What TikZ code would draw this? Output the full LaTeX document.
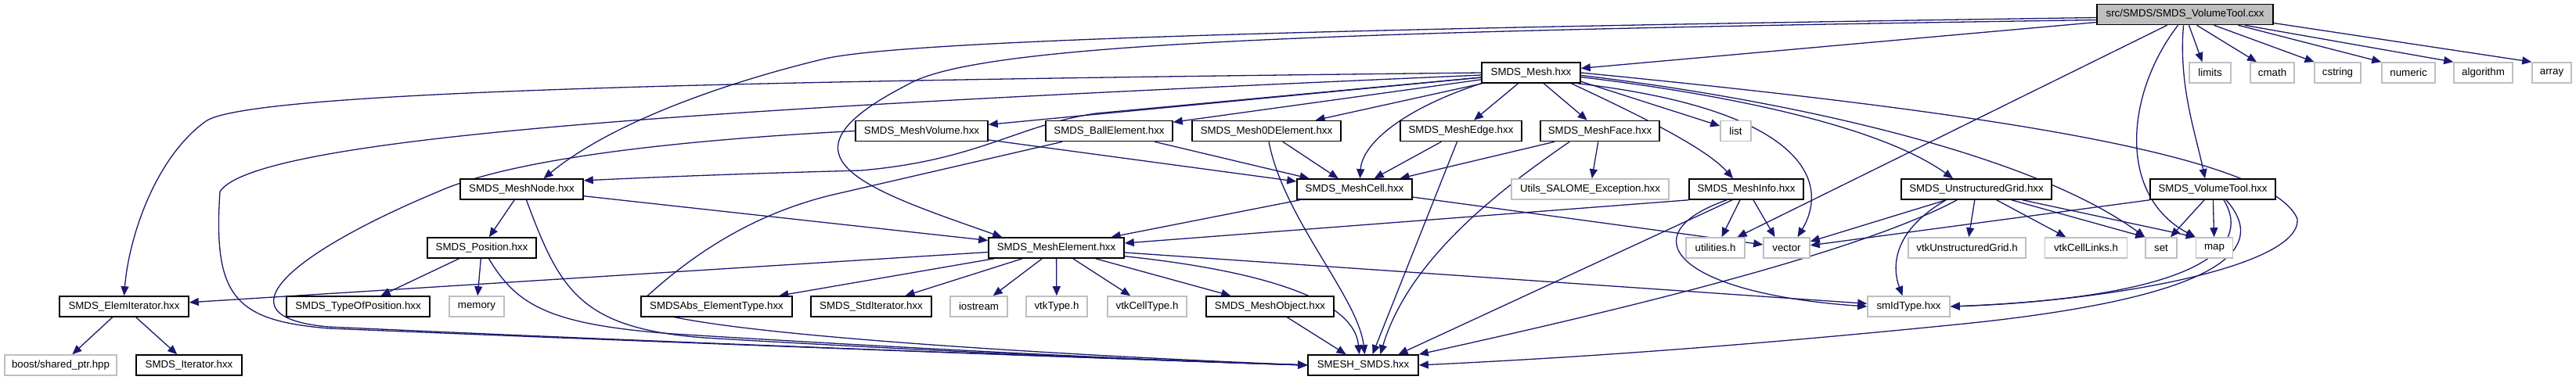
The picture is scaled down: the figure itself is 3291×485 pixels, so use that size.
\documentclass[tikz,border=0pt]{standalone}
\usepackage{fontspec}
\setmainfont{Liberation Sans}
\usetikzlibrary{arrows.meta,calc}
\definecolor{edgec}{HTML}{191970}
\definecolor{greyc}{HTML}{BFBFBF}
\newcommand\lab{\fontsize{13.3}{15}\selectfont}
\pgfdeclarelayer{bg}
\pgfsetlayers{bg,main}
\tikzset{
  e/.style={draw=edgec, line width=1.3pt, -{Triangle[length=12pt,width=10pt]}},
  box/.style={rectangle, fill=white, line width=1.6pt, minimum height=26pt, inner sep=0pt, font=\lab, text=black},
  doc/.style={box, draw=black},
  ext/.style={box, draw=greyc},
  rootbox/.style={box, draw=black, fill=greyc},
}
\begin{document}
\begin{tikzpicture}[x=1pt,y=-1pt]
\useasboundingbox (0,0) rectangle (3291,485);
% row 0
\node[rootbox, minimum width=225] (root) at (2791.5,18.5) {src/SMDS/SMDS\_VolumeTool.cxx};
% row 1
\node[doc, minimum width=126] (mesh) at (1956,93) {SMDS\_Mesh.hxx};
\node[ext, minimum width=53] (limits) at (2823.5,93) {limits};
\node[ext, minimum width=56] (cmath) at (2903,93) {cmath};
\node[ext, minimum width=59] (cstring) at (2986.5,93) {cstring};
\node[ext, minimum width=68] (numeric) at (3077,93) {numeric};
\node[ext, minimum width=75] (algorithm) at (3172.5,93) {algorithm};
\node[ext, minimum width=50] (array) at (3260,93) {array};
% row 2
\node[doc, minimum width=169] (volume) at (1177.5,167.5) {SMDS\_MeshVolume.hxx};
\node[doc, minimum width=162] (ball) at (1417,167.5) {SMDS\_BallElement.hxx};
\node[doc, minimum width=190] (zerod) at (1618,167.5) {SMDS\_Mesh0DElement.hxx};
\node[doc, minimum width=155] (edge) at (1866.5,167.5) {SMDS\_MeshEdge.hxx};
\node[doc, minimum width=152] (face) at (2044,167.5) {SMDS\_MeshFace.hxx};
\node[ext, minimum width=39] (list) at (2217.5,167.5) {list};
% row 3
\node[doc, minimum width=157] (meshnode) at (666.5,242) {SMDS\_MeshNode.hxx};
\node[doc, minimum width=147] (meshcell) at (1730.5,242) {SMDS\_MeshCell.hxx};
\node[ext, minimum width=201] (utilsexc) at (2031.5,242) {Utils\_SALOME\_Exception.hxx};
\node[doc, minimum width=146] (meshinfo) at (2231,242) {SMDS\_MeshInfo.hxx};
\node[doc, minimum width=192] (ugrid) at (2525,242) {SMDS\_UnstructuredGrid.hxx};
\node[doc, minimum width=160] (voltool) at (2827,242) {SMDS\_VolumeTool.hxx};
% row 4
\node[doc, minimum width=139] (position) at (615.5,317) {SMDS\_Position.hxx};
\node[doc, minimum width=173] (meshelem) at (1349.5,317) {SMDS\_MeshElement.hxx};
\node[ext, minimum width=75] (utilities) at (2191.5,317) {utilities.h};
\node[ext, minimum width=59] (vector) at (2282.5,317) {vector};
\node[ext, minimum width=150] (vtkug) at (2513,317) {vtkUnstructuredGrid.h};
\node[ext, minimum width=105] (vtkcl) at (2665,317) {vtkCellLinks.h};
\node[ext, minimum width=40] (set) at (2761,317) {set};
\node[ext, minimum width=47] (map) at (2829,317) {map};
% row 5
\node[doc, minimum width=165] (elemiter) at (158.5,392) {SMDS\_ElemIterator.hxx};
\node[doc, minimum width=183] (typeofpos) at (457.5,392) {SMDS\_TypeOfPosition.hxx};
\node[ext, minimum width=70] (memory) at (609,392) {memory};
\node[doc, minimum width=193] (absel) at (915.5,392) {SMDSAbs\_ElementType.hxx};
\node[doc, minimum width=154] (stditer) at (1113,392) {SMDS\_StdIterator.hxx};
\node[ext, minimum width=73] (iostream) at (1250.5,392) {iostream};
\node[ext, minimum width=78] (vtktype) at (1350,392) {vtkType.h};
\node[ext, minimum width=101] (vtkcelltype) at (1465.5,392) {vtkCellType.h};
\node[doc, minimum width=163] (meshobj) at (1622.5,392) {SMDS\_MeshObject.hxx};
\node[ext, minimum width=105] (smidtype) at (2438.5,392) {smIdType.hxx};
% row 6
\node[ext, minimum width=143] (boost) at (77.5,467) {boost/shared\_ptr.hpp};
\node[doc, minimum width=135] (iterator) at (241.5,467) {SMDS\_Iterator.hxx};
\node[doc, minimum width=141] (smesh) at (1741.5,467) {SMESH\_SMDS.hxx};

\begin{pgfonlayer}{bg}
\fill[white] (0,0) rectangle (3291,485);
% root
\draw[e] (root) -- (mesh);
\draw[e] ($(root.west)+(0,4)$) .. controls (1800,35) and (1150,50) .. (1050,76) .. controls (950,100) and (790,150) .. ($(meshnode.north)+(28,0)$);
\draw[e] ($(root.west)+(0,7)$) .. controls (1700,40) and (1250,55) .. (1160,108) .. controls (980,200) and (1100,240) .. ($(meshelem.north west)+(18,0)$);
\draw[e] ($(root.south)+(-23,0)$) -- ($(utilities.north)+(28,0)$);
\draw[e] ($(root.south)+(-9,0)$) .. controls (2715,120) and (2705,250) .. (map.north west);
\draw[e] ($(root.south)+(-2,0)$) .. controls (2783,110) and (2805,170) .. ($(voltool.north)+(-10,0)$);
\draw[e] ($(root.south)+(5,0)$) -- ($(limits.north)+(-10,0)$);
\draw[e] ($(root.south)+(15,0)$) -- ($(cmath.north)+(-20,0)$);
\draw[e] ($(root.south)+(37,0)$) -- ($(cstring.north)+(-30,0)$);
\draw[e] ($(root.south)+(68,0)$) -- (numeric.north west);
\draw[e] ($(root.south east)+(-37,0)$) -- (algorithm.north west);
\draw[e] ($(root.east)+(0,11)$) -- (array.north west);
% mesh
\draw[e] (mesh.west) .. controls (1000,103) and (320,115) .. (263,155) .. controls (200,200) and (165,300) .. (elemiter.north);
\draw[e] ($(mesh.west)+(0,3)$) .. controls (1000,135) and (330,170) .. (281,245) .. controls (272,380) and (300,410) .. (420,420) .. controls (900,440) and (1400,458) .. (smesh.west);
\draw[e] ($(mesh.west)+(0,6)$) -- (1400,145) .. controls (1300,160) and (1250,205) .. (1100,218) .. controls (950,222) and (850,226) .. (meshnode.8);
\draw[e] (mesh) -- (volume);
\draw[e] (mesh) -- (ball);
\draw[e] (mesh) -- (zerod);
\draw[e] (mesh) -- (edge);
\draw[e] (mesh) -- (face);
\draw[e] (mesh.south west) .. controls (1790,140) and (1740,185) .. ($(meshcell.north)+(7,0)$);
\draw[e] (mesh.-10) -- (list);
\draw[e] (mesh.-15) .. controls (2100,150) and (2180,190) .. ($(meshinfo.north)+(-17,0)$);
\draw[e] (mesh.-13) .. controls (2300,140) and (2340,230) .. ($(vector.north)+(14,0)$);
\draw[e] (mesh.-5) .. controls (2200,120) and (2400,160) .. ($(ugrid.north)+(-30,0)$);
\draw[e] (mesh.-3) .. controls (2300,130) and (2600,200) .. (set.north west);
\draw[e] (mesh.east) .. controls (2500,140) and (2900,195) .. (2935,280) .. controls (2940,340) and (2700,385) .. (smidtype.east);
% volume
\draw[e] (volume) -- (meshcell);
\draw[e] (volume.west) .. controls (850,180) and (650,205) .. (560,245) .. controls (380,320) and (270,405) .. (420,418) .. controls (900,440) and (1400,458) .. (smesh.west);
% ball
\draw[e] (ball) -- (meshcell);
\draw[e] ($(ball.south west)+(22,0)$) -- (1060,250) .. controls (980,270) and (900,310) .. (820,385) .. controls (790,420) and (1300,452) .. (smesh.west);
% zerod
\draw[e] (zerod) -- (meshcell);
\draw[e] ($(zerod.south)+(3,0)$) .. controls (1640,280) and (1735,380) .. ($(smesh.north)+(2,0)$);
% edge
\draw[e] (edge) -- (meshcell);
\draw[e] ($(edge.south)+(-5,0)$) -- ($(smesh.north)+(12,0)$);
% face
\draw[e] (face) -- (meshcell);
\draw[e] (face) -- (utilsexc);
\draw[e] ($(face.south west)+(38,0)$) .. controls (1920,240) and (1800,330) .. ($(smesh.north)+(22,0)$);
% meshcell
\draw[e] (meshcell) -- (meshelem);
\draw[e] (meshcell) -- (vector);
% meshnode
\draw[e] (meshnode) -- (position);
\draw[e] ($(meshnode.south)+(6,0)$) .. controls (715,370) and (740,420) .. (900,432) .. controls (1200,450) and (1500,462) .. (smesh.west);
\draw[e] (meshnode) -- (meshelem);
% position
\draw[e] (position) -- (typeofpos);
\draw[e] (position) -- (memory);
\draw[e] ($(position.south)+(9,0)$) .. controls (660,390) and (700,415) .. (860,427) .. controls (1200,448) and (1500,462) .. (smesh.west);
% elemiter
\draw[e] (elemiter) -- (boost);
\draw[e] (elemiter) -- (iterator);
% meshelem
\draw[e] (meshelem) -- (elemiter);
\draw[e] (meshelem) -- (absel);
\draw[e] (meshelem) -- (stditer);
\draw[e] (meshelem) -- (iostream);
\draw[e] (meshelem) -- (vtktype);
\draw[e] (meshelem) -- (vtkcelltype);
\draw[e] (meshelem) -- (meshobj);
\draw[e] (meshelem.-7) .. controls (1600,345) and (1730,380) .. ($(smesh.north)+(-5,0)$);
\draw[e] (meshelem) -- (smidtype);
% meshobj
\draw[e] (meshobj) -- (smesh);
% meshinfo
\draw[e] (meshinfo.south west) -- ($(meshelem.east)+(0,-6)$);
\draw[e] ($(meshinfo.south)+(-8,0)$) -- ($(utilities.north)+(8,0)$);
\draw[e] ($(meshinfo.south)+(9,0)$) -- ($(vector.north)+(-15,0)$);
\draw[e] ($(meshinfo.south)+(-25,0)$) .. controls (2080,300) and (2140,375) .. (smidtype.west);
\draw[e] ($(meshinfo.south)+(-18,0)$) -- ($(smesh.north)+(45,0)$);
% ugrid
\draw[e] ($(ugrid.south west)+(58,0)$) -- (vector.15);
\draw[e] ($(ugrid.south west)+(58,0)$) .. controls (2410,300) and (2420,350) .. ($(smidtype.north)+(-8,0)$);
\draw[e] ($(ugrid.south west)+(72,0)$) .. controls (2380,320) and (2100,390) .. (smesh.north east);
\draw[e] (ugrid) -- (vtkug);
\draw[e] (ugrid) -- (vtkcl);
\draw[e] ($(ugrid.south east)+(-52,0)$) -- (set.north west);
\draw[e] ($(ugrid.south east)+(-38,0)$) -- (map.north west);
% voltool
\draw[e] (voltool.south west) -- (vector.6);
\draw[e] ($(voltool.south)+(-11,0)$) -- ($(set.north)+(12,0)$);
\draw[e] (voltool) -- (map);
\draw[e] ($(voltool.south)+(14,0)$) .. controls (2880,320) and (2800,380) .. (smidtype.east);
\draw[e] ($(voltool.south)+(17,0)$) .. controls (2910,330) and (2800,385) .. (2500,415) .. controls (2200,445) and (2000,458) .. (smesh.east);
\end{pgfonlayer}
\end{tikzpicture}
\end{document}
